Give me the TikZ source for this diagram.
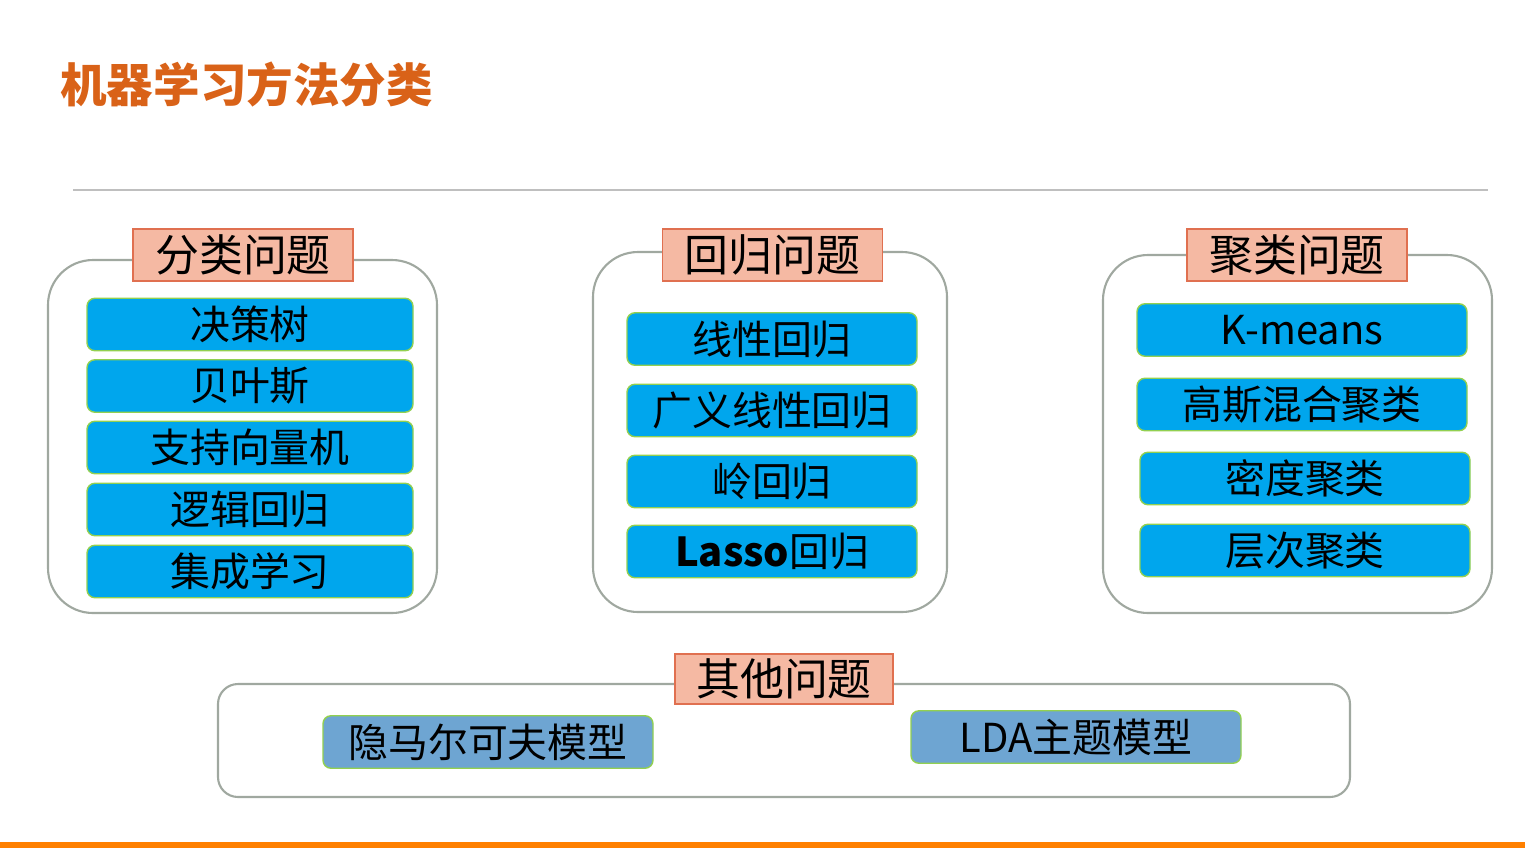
\documentclass[tikz,border=0pt]{standalone}
\usepackage{fontspec}
\setmainfont{Noto Sans CJK SC}
\definecolor{titleorange}{RGB}{217,98,24}
\definecolor{barorange}{RGB}{255,128,0}
\definecolor{methodblue}{RGB}{0,166,237}
\definecolor{otherblue}{RGB}{110,165,210}
\definecolor{headfill}{RGB}{245,185,163}
\definecolor{headline}{RGB}{224,112,80}
\definecolor{edgegreen}{RGB}{146,208,80}
\definecolor{framegray}{RGB}{160,168,160}

\tikzstyle{groupframe}=[shape=rectangle, draw=framegray, line width=1.2pt, rounded corners=0.9cm]
\tikzstyle{headbox}=[shape=rectangle, draw=headline, fill=headfill, line width=1pt, minimum width=4.4cm, minimum height=1.04cm, inner sep=0pt, font=\fontsize{25}{28}\selectfont]
\tikzstyle{methodbox}=[shape=rectangle, draw=edgegreen, fill=methodblue, line width=0.8pt, rounded corners=0.16cm, minimum height=1.05cm, inner sep=0pt, font=\fontsize{22.7}{26}\selectfont]
\tikzstyle{otherbox}=[methodbox, fill=otherblue, minimum width=6.6cm]

\begin{document}
\begin{tikzpicture}
        \useasboundingbox (0,0) rectangle (30.5,-16.96);
        % title and rules
        \node[anchor=west, inner sep=0pt, text=titleorange, font=\fontsize{26.5}{30}\selectfont\bfseries] at (1.2,-1.70) (title) {机器学习方法分类};
        \draw[gray!50, line width=1pt] (1.46,-3.80) -- (29.76,-3.80);
        \fill[barorange] (0,-16.84) rectangle (30.5,-16.96);
        % classification
        \node[groupframe, minimum width=7.78cm, minimum height=7.06cm] at (4.85,-8.73) (clsframe) {};
        \node[headbox] at (4.86,-5.10) (clshead) {分类问题};
        \node[methodbox, minimum width=6.52cm] at (5.0,-6.49) (tree) {决策树};
        \node[methodbox, minimum width=6.52cm] at (5.0,-7.72) (bayes) {贝叶斯};
        \node[methodbox, minimum width=6.52cm] at (5.0,-8.95) (svm) {支持向量机};
        \node[methodbox, minimum width=6.52cm] at (5.0,-10.19) (logit) {逻辑回归};
        \node[methodbox, minimum width=6.52cm] at (5.0,-11.43) (ensemble) {集成学习};
        % regression
        \node[groupframe, minimum width=7.08cm, minimum height=7.2cm] at (15.4,-8.64) (regframe) {};
        \node[headbox] at (15.45,-5.10) (reghead) {回归问题};
        \node[methodbox, minimum width=5.8cm] at (15.44,-6.78) (linreg) {线性回归};
        \node[methodbox, minimum width=5.8cm] at (15.44,-8.21) (glm) {广义线性回归};
        \node[methodbox, minimum width=5.8cm] at (15.44,-9.63) (ridge) {岭回归};
        \node[methodbox, minimum width=5.8cm] at (15.44,-11.03) (lasso) {{\bfseries Lasso}回归};
        % clustering
        \node[groupframe, minimum width=7.78cm, minimum height=7.16cm] at (25.95,-8.68) (cluframe) {};
        \node[headbox] at (25.94,-5.10) (cluhead) {聚类问题};
        \node[methodbox, minimum width=6.6cm] at (26.04,-6.60) (kmeans) {K-means};
        \node[methodbox, minimum width=6.6cm] at (26.04,-8.09) (gmm) {高斯混合聚类};
        \node[methodbox, minimum width=6.6cm] at (26.10,-9.57) (density) {密度聚类};
        \node[methodbox, minimum width=6.6cm] at (26.10,-11.01) (hier) {层次聚类};
        % others
        \node[groupframe, rounded corners=0.4cm, minimum width=22.64cm, minimum height=2.26cm] at (15.68,-14.81) (othframe) {};
        \node[headbox, minimum width=4.36cm, minimum height=1.0cm] at (15.68,-13.58) (othhead) {其他问题};
        \node[otherbox] at (9.76,-14.84) (hmm) {隐马尔可夫模型};
        \node[otherbox] at (21.52,-14.74) (lda) {LDA主题模型};
    \end{tikzpicture}
\end{document}
